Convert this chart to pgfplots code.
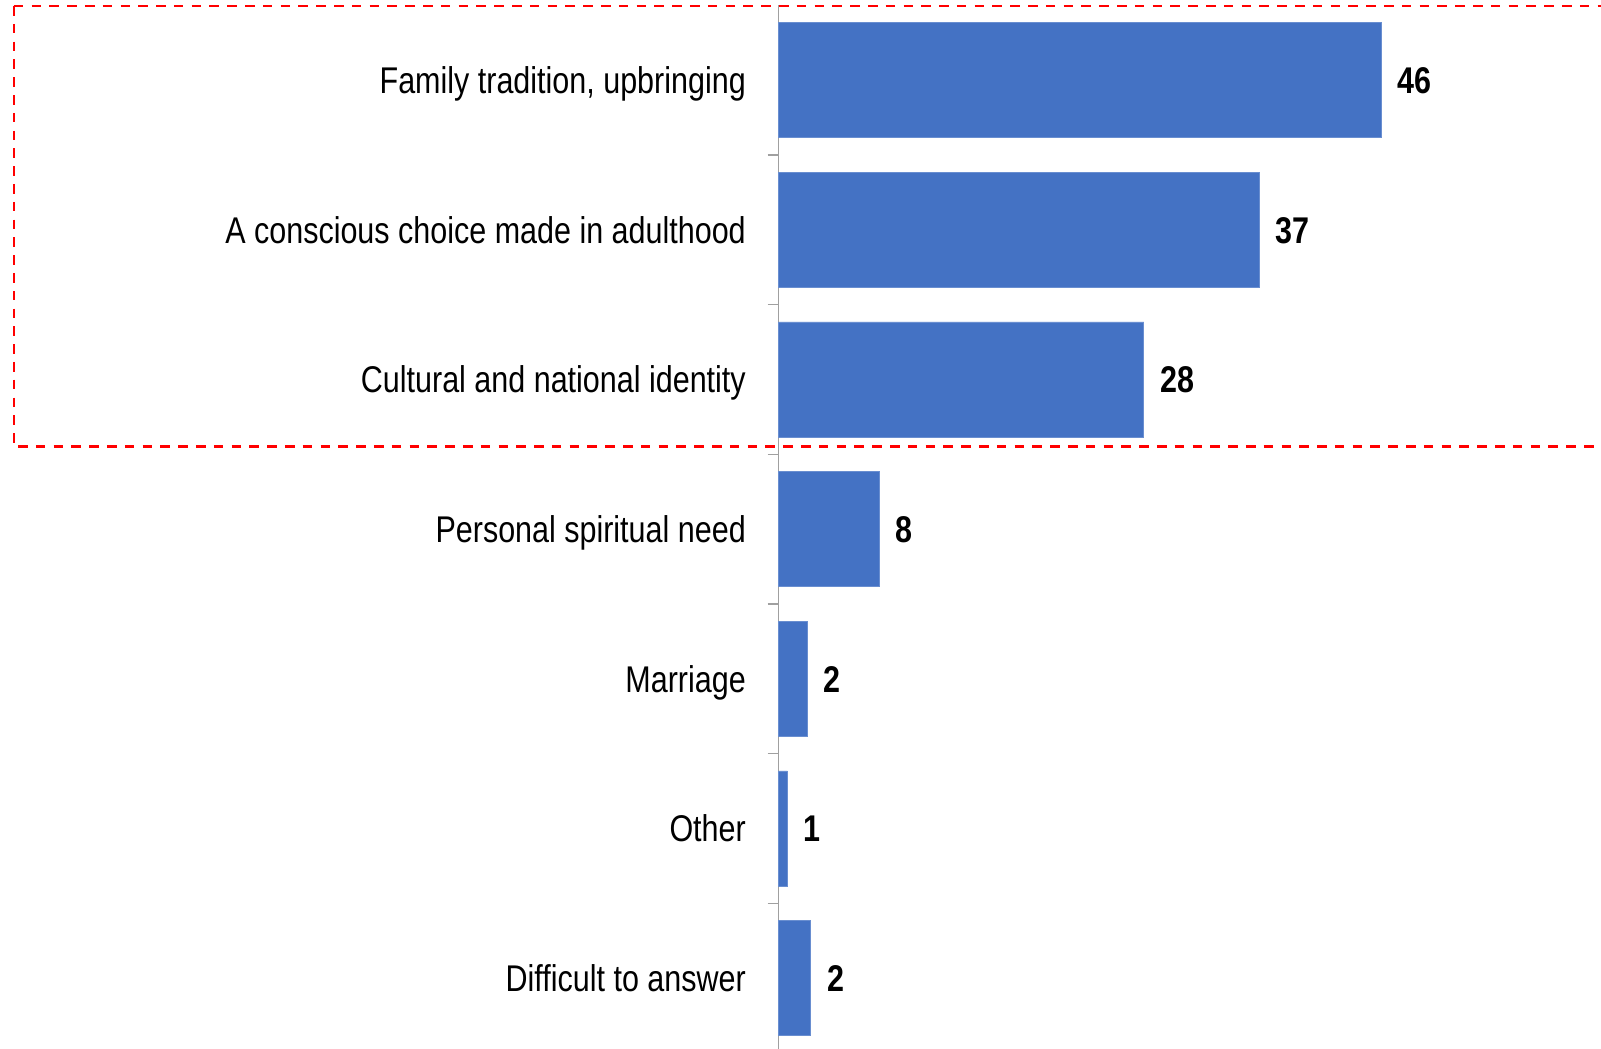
\documentclass[border=0pt]{standalone}
\usepackage{fontspec}
\setmainfont[FakeStretch=0.82]{Liberation Sans}
\newfontfamily\boldnarrow[FakeStretch=0.82]{Liberation Sans Bold}
\usepackage{pgfplots}
\pgfplotsset{compat=1.18}
\definecolor{barblue}{HTML}{4472C4}
\definecolor{axgray}{RGB}{160,160,160}
\begin{document}
\begin{tikzpicture}
\begin{axis}[
  xbar,
  width=411.25pt, height=521.85pt,
  scale only axis,
  xmin=0, xmax=62.8,
  ymin=-0.472, ymax=6.5,
  enlargelimits=false,
  clip=false,
  bar width=0.768,
  axis x line=none,
  axis y line*=left,
  axis line style={axgray, line width=0.6pt},
  ytick={0,1,2,3,4,5,6},
  yticklabels={Difficult to answer, Other, Marriage, Personal spiritual need, Cultural and national identity, A conscious choice made in adulthood, {Family tradition, upbringing}},
  minor ytick={0.5,1.5,2.5,3.5,4.5,5.5},
  major tick length=0pt,
  minor tick length=5.5pt,
  tick align=outside,
  minor tick style={axgray, line width=0.6pt},
  yticklabel style={font=\fontsize{18.6}{22}\selectfont, inner sep=0pt, anchor=base east, xshift=-16.25pt, yshift=-6.65pt},
  nodes near coords,
  nodes near coords style={font=\fontsize{18.6}{22}\selectfont\boldnarrow, inner sep=0pt, anchor=base west, xshift=8pt, yshift=-6.65pt, /pgf/number format/fixed, /pgf/number format/precision=0, /pgf/number format/assume math mode=true},
]
\addplot[fill=barblue, draw=barblue!80!white, line width=0.4pt] coordinates {
  (46,6) (36.72,5) (27.89,4) (7.66,3) (2.16,2) (0.66,1) (2.44,0)
};
\draw[red, line width=1.15pt, dash pattern=on 4.8pt off 4.1pt] (axis cs:-58.42,6.495) -- (axis cs:70,6.495);
\draw[red, line width=1.15pt, dash pattern=on 4.8pt off 4.1pt] (axis cs:-58.42,6.495) -- (axis cs:-58.42,3.551) -- (axis cs:70,3.551);
\coordinate (bbtl) at (axis cs:-59.47,6.5354);
\coordinate (bbbr) at (axis cs:62.8,-0.472);
\end{axis}
\pgfresetboundingbox
\useasboundingbox (bbtl) rectangle (bbbr);
\end{tikzpicture}
\end{document}
